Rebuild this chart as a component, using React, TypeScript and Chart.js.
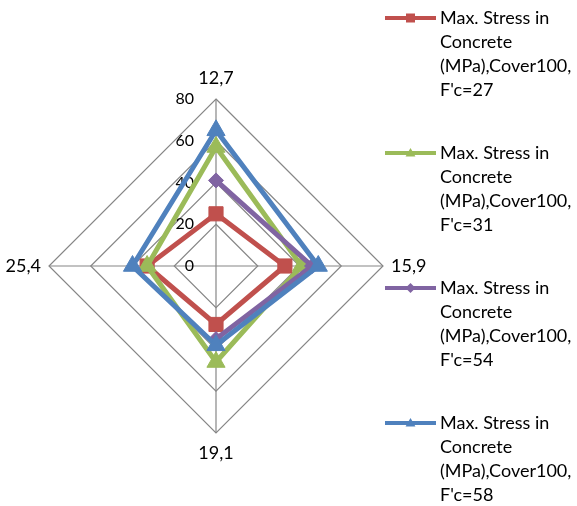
import React, { useEffect, useRef } from "react";
import { Chart, registerables } from "chart.js";

Chart.register(...registerables);

const categories = ["12,7", "15,9", "19,1", "25,4"];
const seriesNames = [
  "Max. Stress in Concrete (MPa),Cover100, F'c=27",
  "Max. Stress in Concrete (MPa),Cover100, F'c=31",
  "Max. Stress in Concrete (MPa),Cover100, F'c=54",
  "Max. Stress in Concrete (MPa),Cover100, F'c=58",
];
const stressFc27 = [25, 33, 28, 33];
const stressFc31 = [57, 41, 46, 33];
const stressFc54 = [41, 46, 35, null];
const stressFc58 = [65, 49, 38, 40];
const axisMin = 0;
const axisMax = 80;
const axisStep = 20;

const FONT = "Lato, 'Open Sans', sans-serif";

function wrapText(ctx: CanvasRenderingContext2D, text: string, maxW: number): string[] {
  const words = text.split(" ");
  const lines: string[] = [];
  let cur = "";
  for (const w of words) {
    const test = cur ? cur + " " + w : w;
    if (cur && ctx.measureText(test).width > maxW) {
      lines.push(cur);
      cur = w;
    } else {
      cur = test;
    }
  }
  if (cur) lines.push(cur);
  return lines;
}

function drawMarker(ctx: CanvasRenderingContext2D, style: string, x: number, y: number, r: number) {
  ctx.beginPath();
  if (style === "rect") {
    ctx.rect(x - r, y - r, 2 * r, 2 * r);
  } else if (style === "triangle") {
    ctx.moveTo(x, y - r * 1.1);
    ctx.lineTo(x + r * 1.1, y + r * 0.8);
    ctx.lineTo(x - r * 1.1, y + r * 0.8);
    ctx.closePath();
  } else {
    ctx.moveTo(x, y - r);
    ctx.lineTo(x + r, y);
    ctx.lineTo(x, y + r);
    ctx.lineTo(x - r, y);
    ctx.closePath();
  }
  ctx.fill();
}

const tickLabelPlugin = {
  id: "tickLabelPlugin",
  beforeDatasetsDraw(chart: any) {
    const s = chart.scales.r;
    const ctx = chart.ctx as CanvasRenderingContext2D;
    ctx.save();
    ctx.font = `16px ${FONT}`;
    ctx.fillStyle = "#000";
    ctx.textAlign = "right";
    ctx.textBaseline = "middle";
    s.ticks.forEach((t: any) => {
      const d = s.getDistanceFromCenterForValue(t.value);
      ctx.fillText(String(t.value), s.xCenter - 22, s.yCenter - d);
    });
    ctx.restore();
  },
};

const sideLegendPlugin = {
  id: "sideLegendPlugin",
  afterDraw(chart: any) {
    const ctx = chart.ctx as CanvasRenderingContext2D;
    ctx.save();
    ctx.font = `18px ${FONT}`;
    ctx.textAlign = "left";
    ctx.textBaseline = "middle";
    chart.data.datasets.forEach((ds: any, i: number) => {
      const y0 = 18 + i * 135;
      ctx.strokeStyle = ds.borderColor;
      ctx.lineWidth = 4;
      ctx.beginPath();
      ctx.moveTo(385, y0);
      ctx.lineTo(436, y0);
      ctx.stroke();
      ctx.fillStyle = ds.borderColor;
      drawMarker(ctx, ds.pointStyle, 410.5, y0, ds.pointStyle === "rectRot" ? 5 : 4.5);
      ctx.fillStyle = "#000";
      const lines = wrapText(ctx, ds.label, 137);
      lines.forEach((ln, k) => ctx.fillText(ln, 440, y0 + k * 24));
    });
    ctx.restore();
  },
};

export default function App() {
  const ref = useRef<HTMLCanvasElement | null>(null);

  useEffect(() => {
    if (!ref.current) return;
    const mk = (label: string, data: (number | null)[], color: string, style: string, radius: number, order: number) => ({
      label,
      data,
      borderColor: color,
      backgroundColor: color,
      borderWidth: 5,
      pointStyle: style,
      pointRadius: radius,
      pointBackgroundColor: color,
      pointBorderColor: color,
      pointBorderWidth: 1,
      fill: false,
      tension: 0,
      spanGaps: false,
      order,
    });
    const chart = new Chart(ref.current, {
      type: "radar",
      data: {
        labels: categories,
        datasets: [
          mk(seriesNames[0], stressFc27, "#C0504D", "rect", 10, 4),
          mk(seriesNames[1], stressFc31, "#9BBB59", "triangle", 10.5, 3),
          mk(seriesNames[2], stressFc54, "#8064A2", "rectRot", 7.5, 2),
          mk(seriesNames[3], stressFc58, "#4F81BD", "triangle", 10.5, 1),
        ],
      },
      options: {
        animation: false,
        responsive: true,
        maintainAspectRatio: false,
        events: [],
        layout: { padding: { left: 0, top: 67, right: 144, bottom: 41 } },
        plugins: { legend: { display: false }, tooltip: { enabled: false } },
        scales: {
          r: {
            min: axisMin,
            max: axisMax,
            ticks: { stepSize: axisStep, display: false },
            grid: { circular: false, color: "#868686", lineWidth: 1.2 },
            angleLines: { display: true, color: "#868686", lineWidth: 1.2 },
            pointLabels: {
              display: true,
              color: "#000",
              font: { family: FONT, size: 18 },
              padding: (c: any) => [10.4, 8, 9.5, 8][c.index],
            },
          },
        },
      } as any,
      plugins: [tickLabelPlugin, sideLegendPlugin],
    });
    return () => chart.destroy();
  }, []);

  return (
    <div style={{ position: "absolute", left: 0, top: 0, width: 577, height: 506, background: "#fff" }}>
      <canvas ref={ref} />
    </div>
  );
}
